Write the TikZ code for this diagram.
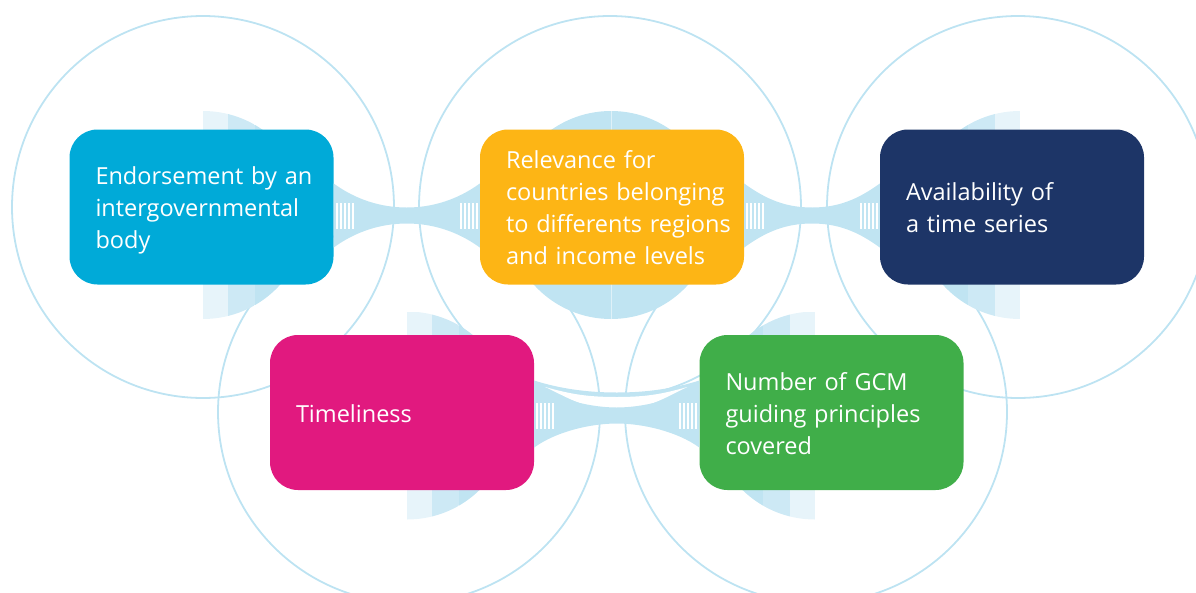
\documentclass[tikz,border=0pt]{standalone}
\usepackage{fontspec}
\setmainfont{Open Sans}
\usetikzlibrary{calc}

\definecolor{ring}{HTML}{BDE3F2}
\definecolor{disc}{HTML}{C0E4F2}
\definecolor{discmid}{HTML}{CDE9F5}
\definecolor{disclight}{HTML}{E7F4FA}
\definecolor{boxcyan}{HTML}{00AAD8}
\definecolor{boxorange}{HTML}{FDB515}
\definecolor{boxnavy}{HTML}{1D3567}
\definecolor{boxmagenta}{HTML}{E1197F}
\definecolor{boxgreen}{HTML}{40AE49}

\newcommand{\boxtext}[1]{\noindent\raisebox{-3.5pt}[\height][\depth]{\begin{tabular}{@{}l@{}}#1\end{tabular}}}

\newcommand{\halfdisc}[3]{%
  \begin{scope}
    \clip (#1,#2) circle[radius=104pt];
    \fill[disclight] ({#1},{#2-104}) rectangle ({#1+(#3)*25},{#2+104});
    \fill[discmid] ({#1+(#3)*25},{#2-104}) rectangle ({#1+(#3)*52},{#2+104});
    \fill[disc] ({#1+(#3)*52},{#2-104}) rectangle ({#1+(#3)*110},{#2+104});
  \end{scope}}

\newcommand{\bridge}[3]{%
  \coordinate (bl) at ($(#1.east)+(0,#3)$);
  \coordinate (br) at ($(#2.west)+(0,#3)$);
  \coordinate (bm) at ($(bl)!0.5!(br)$);
  \fill[bridgefill] ($(bl)+(0,-32)$) .. controls +(22,16) and +(-26,0) .. ($(bm)+(0,-8)$)
    .. controls +(26,0) and +(-22,16) .. ($(br)+(0,-32)$) -- ($(br)+(0,32)$)
    .. controls +(-22,-16) and +(26,0) .. ($(bm)+(0,8)$)
    .. controls +(-26,0) and +(22,-16) .. ($(bl)+(0,32)$) -- cycle;
  \foreach \i in {0,...,4} {
    \fill[white] ($(bl)+(2+4*\i,-13)$) rectangle +(2.2,26);
    \fill[white] ($(br)+(-2-4*\i,-13)$) rectangle +(-2.2,26);
  }}

\begin{document}
\begin{tikzpicture}[x=1pt, y=-1pt,
    box/.style={rounded corners=28pt, minimum height=155pt, text width=212pt,
      inner xsep=26pt, text=white, font=\fontsize{23.5}{32}\selectfont},
    ringline/.style={draw=ring, line width=1.8pt},
    bridgefill/.style={fill=disc}]
  \useasboundingbox (0,0) rectangle (1196,592);
  \clip (0,0) rectangle (1196,592);

  \foreach \cx/\cy in {203/207, 610/207, 1018/207, 409/412, 816/412}
    \draw[ringline] (\cx,\cy) circle[radius=191pt];

  \halfdisc{203}{215}{1}
  \halfdisc{1020}{215}{-1}
  \halfdisc{407}{415.5}{1}
  \halfdisc{815}{415.5}{-1}
  \fill[disc] (611,215) circle[radius=104pt];
  \draw[white, opacity=.5, line width=.6pt] (611,111) -- (611,319);

  \node[box, fill=boxcyan] (endorse) at (201.5,207) {\boxtext{Endorsement by an\\intergovernmental\\body}};
  \node[box, fill=boxorange] (relevance) at (612,207) {\boxtext{Relevance for\\countries belonging\\to differents regions\\and income levels}};
  \node[box, fill=boxnavy] (avail) at (1012,207) {\boxtext{Availability of\\a time series}};
  \node[box, fill=boxmagenta] (timely) at (402,412.5) {\boxtext{Timeliness}};
  \node[box, fill=boxgreen] (gcm) at (831.5,412.5) {\boxtext{Number of GCM\\guiding principles\\covered}};

  \bridge{endorse}{relevance}{8.5}
  \bridge{relevance}{avail}{8.5}

  \fill[bridgefill] ($(timely.east)+(0,-32)$) .. controls +(25,8) and +(-30,0) .. ($(timely.east)!0.5!(gcm.west)+(0,-20)$)
    .. controls +(30,0) and +(-25,8) .. ($(gcm.west)+(0,-32)$) -- ($(gcm.west)+(0,3)$) -- ($(timely.east)+(0,3)$) -- cycle;
  \fill[white] ($(timely.east)+(11,-25.5)$) .. controls +(25,7) and +(-30,0) .. ($(timely.east)!0.5!(gcm.west)+(0,-15.5)$)
    .. controls +(30,0) and +(-25,7) .. ($(gcm.west)+(-12,-25.5)$)
    .. controls +(-25,12) and +(30,0) .. ($(timely.east)!0.5!(gcm.west)+(0,-3)$)
    .. controls +(-30,0) and +(25,12) .. cycle;
  \bridge{timely}{gcm}{3}
\end{tikzpicture}
\end{document}
